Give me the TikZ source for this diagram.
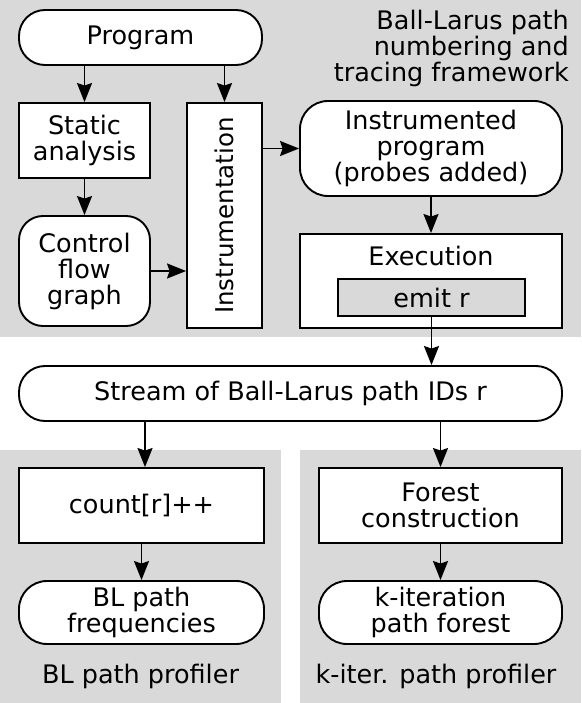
\documentclass[tikz,border=0pt]{standalone}
\usepackage{fontspec}
\setmainfont{DejaVu Sans}
\usetikzlibrary{arrows.meta}
\definecolor{panel}{HTML}{D9D9D9}
\tikzset{
  box/.style={draw, line width=1.9pt, fill=white, align=center, inner sep=0pt},
  pill/.style={box, rounded corners=26pt},
  rbox/.style={box, rounded corners=24pt},
  arr/.style={line width=1.9pt, -{Stealth[length=19pt,width=15pt,inset=2.5pt]}},
  lbl/.style={align=center, inner sep=0pt}
}
\begin{document}
\begin{tikzpicture}[x=1pt,y=-1pt,font=\fontsize{25.5}{26}\selectfont]
\useasboundingbox (0,0) rectangle (581,703);
% panels
\fill[panel] (0,0) rectangle (581,337);
\fill[panel] (0,450) rectangle (281,703);
\fill[panel] (300,450) rectangle (581,703);
% title
\node[lbl, align=right, anchor=north east] (title) at (569,10) {Ball-Larus path\\numbering and\\tracing framework};
% nodes
\node[pill, minimum width=243pt, minimum height=55pt] (prog) at (140.5,37.5) {Program};
\node[box, minimum width=131pt, minimum height=75pt] (static) at (84.5,140.5) {Static\\analysis};
\node[rbox, minimum width=131pt, minimum height=110pt] (cfg) at (84.5,271) {Control\\flow\\graph};
\node[box, minimum width=75pt, minimum height=225pt] (instr) at (224.5,215.5) {\rotatebox{90}{\fontsize{24.5}{26}\selectfont Instrumentation}};
\node[rbox, rounded corners=28pt, minimum width=262pt, minimum height=95pt] (iprog) at (431,148.5) {Instrumented\\program\\(probes added)};
\node[box, minimum width=262pt, minimum height=94pt] (exec) at (431,281) {};
\node[lbl, anchor=base] (execl) at (431,265) {Execution};
\node[box, fill=panel, minimum width=187pt, minimum height=37pt] (emit) at (431.5,297.5) {emit r};
\node[pill, minimum width=543pt, minimum height=55pt] (stream) at (290.5,393.5) {Stream of Ball-Larus path IDs r};
\node[box, minimum width=245pt, minimum height=75pt] (count) at (141.5,505.5) {count[r]++};
\node[pill, rounded corners=28pt, minimum width=245pt, minimum height=63pt] (blf) at (141.5,612.5) {BL path\\frequencies};
\node[box, minimum width=243pt, minimum height=75pt] (forest) at (440.5,505.5) {Forest\\construction};
\node[pill, rounded corners=28pt, minimum width=243pt, minimum height=63pt] (kfor) at (440.5,612.5) {k-iteration\\path forest};
\node[lbl] (blp) at (140.5,676) {BL path profiler};
\node[lbl] (kp) at (436,676) {k-iter. path profiler};
% connectors
\draw[arr] (prog.south -| static.north) -- (static.north);
\draw[arr] (prog.south -| instr.north) -- (instr.north);
\draw[arr] (static) -- (cfg);
\draw[arr] (cfg) -- (cfg -| instr.west);
\draw[arr] (instr.east |- iprog) -- (iprog);
\draw[arr] (iprog) -- (exec);
\draw[arr] (emit.south) -- (emit.south |- stream.north);
\draw[arr] ([xshift=3.5pt]count.north |- stream.south) -- ([xshift=3.5pt]count.north);
\draw[arr] (stream.south -| forest.north) -- (forest.north);
\draw[arr] (count) -- (blf);
\draw[arr] (forest) -- (kfor);
\end{tikzpicture}
\end{document}
